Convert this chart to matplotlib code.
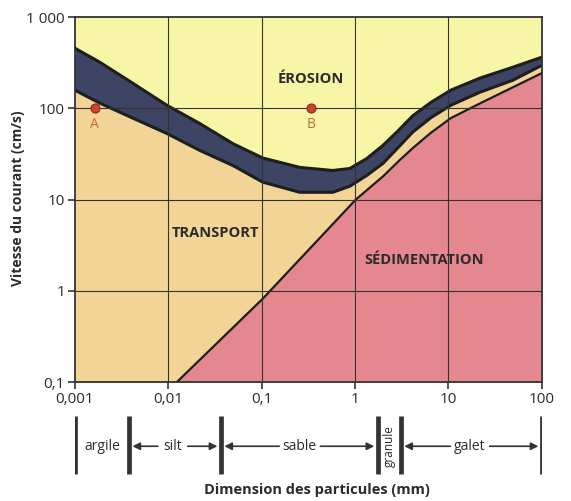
import matplotlib
matplotlib.use("Agg")
import matplotlib.pyplot as plt
import numpy as np

plt.rcParams['font.family'] = ['Open Sans', 'DejaVu Sans']

# Limite supérieure (érosion) et inférieure de la bande sombre
bande_x = [0.001, 0.00185, 0.00418, 0.00966, 0.0218, 0.0492, 0.103, 0.256, 0.578,
           0.88, 1.34, 1.99, 2.81, 4.16, 6.5, 10.6, 21.7, 49, 100]
erosion_haut = [456, 320, 188, 108, 68, 41, 28.5, 22.5, 20.8,
                21.9, 28.2, 39.2, 55, 83, 116, 158, 214, 282, 363]
erosion_bas = [158, 114, 78, 53, 34.5, 23.6, 15.5, 12.0, 12.0,
               14.0, 18.4, 24.9, 36, 55, 79, 108, 150, 203, 296]

# Limite transport / sédimentation
sed_x = [0.0124, 0.103, 1.02, 2.0, 3.0, 4.2, 6.5, 10.6, 21.7, 49, 100]
sed_y = [0.1, 0.82, 10, 18, 27, 37, 54, 78, 113, 170, 243]

# Points A et B
points_x = [0.00164, 0.336]
points_y = [100, 100]
points_lbl = ["A", "B"]

# Classes granulométriques (bornes)
bornes = [0.001, 0.0038, 0.0366, 1.75, 3.09, 100]
classes = ["argile", "silt", "sable", "granule", "galet"]

xticks = [0.001, 0.01, 0.1, 1, 10, 100]
xlabels = ["0,001", "0,01", "0,1", "1", "10", "100"]
yticks = [0.1, 1, 10, 100, 1000]
ylabels = ["0,1", "1", "10", "100", "1 000"]

jaune = "#f7f6a6"
beige = "#f2d496"
rose = "#e4878e"
sombre = "#3d4464"
texte = "#2b2b2b"

fig = plt.figure(figsize=(5.71, 5.01), dpi=100)
ax = fig.add_axes([0.131, 0.2375, 0.818, 0.7285])
ax.set_xscale("log")
ax.set_yscale("log")
ax.set_xlim(0.001, 100)
ax.set_ylim(0.1, 1000)
ax.set_facecolor(jaune)

ax.fill_between(bande_x, 0.1, erosion_bas, color=beige, lw=0, zorder=1)
ax.fill_between(bande_x, erosion_bas, erosion_haut, color=sombre, lw=0, zorder=2)
ax.plot(bande_x, erosion_haut, color="#1e1e1e", lw=2.2, zorder=3)
ax.plot(bande_x, erosion_bas, color="#1e1e1e", lw=2.2, zorder=3)
ax.fill_between(sed_x, 0.1, sed_y, color=rose, lw=0, zorder=2.5)
ax.plot(sed_x, sed_y, color="#1e1e1e", lw=1.6, zorder=3)

for v in xticks[1:-1]:
    ax.axvline(v, color="#333333", lw=0.8, zorder=4)
for v in yticks[1:-1]:
    ax.axhline(v, color="#333333", lw=0.8, zorder=4)

ax.set_xticks(xticks)
ax.set_xticklabels(xlabels)
ax.set_yticks(yticks)
ax.set_yticklabels(ylabels)
ax.minorticks_off()
ax.tick_params(axis="both", length=5, width=1.2, color="#333333",
               labelsize=11, labelcolor=texte, pad=2)
for s in ax.spines.values():
    s.set_color("#333333")
    s.set_linewidth(1.3)
    s.set_zorder(5)

ax.plot(points_x, points_y, "o", ms=6.5, color="#c8472c", mec="#8a2c1c", mew=0.8, zorder=6)
for px, py, lbl in zip(points_x, points_y, points_lbl):
    ax.annotate(lbl, (px, py), xytext=(0, -6), textcoords="offset points",
                ha="center", va="top", fontsize=10, color="#c86a3a", zorder=6)

ax.text(0.34, 210, "ÉROSION", fontsize=10.5, fontweight="bold", color=texte,
        ha="center", va="center", zorder=6)
ax.text(0.032, 4.3, "TRANSPORT", fontsize=10.5, fontweight="bold", color=texte,
        ha="center", va="center", zorder=6)
ax.text(5.5, 2.2, "SÉDIMENTATION", fontsize=10.5, fontweight="bold", color=texte,
        ha="center", va="center", zorder=6)

# Échelle granulométrique sous le graphique
ax2 = fig.add_axes([0.131, 0.044, 0.818, 0.136], sharex=ax)
ax2.set_ylim(0, 1)
ax2.axis("off")
for b in bornes:
    ax2.plot([b, b], [0.07, 0.93], color="#333333", lw=3.4, solid_capstyle="butt")

ym = 0.48
fl = dict(arrowstyle="-|>", color="#333333", lw=1.2, mutation_scale=11,
          shrinkA=0, shrinkB=2.5)


def fleches(centre, demi, gauche, droite):
    ax2.annotate("", xy=(gauche, ym), xytext=(centre / 10 ** demi, ym), arrowprops=fl)
    ax2.annotate("", xy=(droite, ym), xytext=(centre * 10 ** demi, ym), arrowprops=fl)


ax2.text(np.sqrt(bornes[0] * bornes[1]), ym, classes[0], fontsize=10,
         color=texte, ha="center", va="center")
ax2.text(0.0112, ym, classes[1], fontsize=10, color=texte, ha="center", va="center")
fleches(0.0112, 0.16, bornes[1], bornes[2])
ax2.text(0.256, ym, classes[2], fontsize=10, color=texte, ha="center", va="center")
fleches(0.256, 0.22, bornes[2], bornes[3])
ax2.text(np.sqrt(bornes[3] * bornes[4]), ym, classes[3], fontsize=8.5,
         color=texte, ha="center", va="center", rotation=90)
ax2.text(17, ym, classes[4], fontsize=10, color=texte, ha="center", va="center")
fleches(17, 0.21, bornes[4], bornes[5])

fig.text(0.555, 0.022, "Dimension des particules (mm)", fontsize=10.5,
         fontweight="bold", color=texte, ha="center", va="center")
fig.text(0.032, 0.605, "Vitesse du courant (cm/s)", fontsize=10,
         fontweight="bold", color=texte, ha="center", va="center", rotation=90)

fig.savefig("out.png", dpi=100)
